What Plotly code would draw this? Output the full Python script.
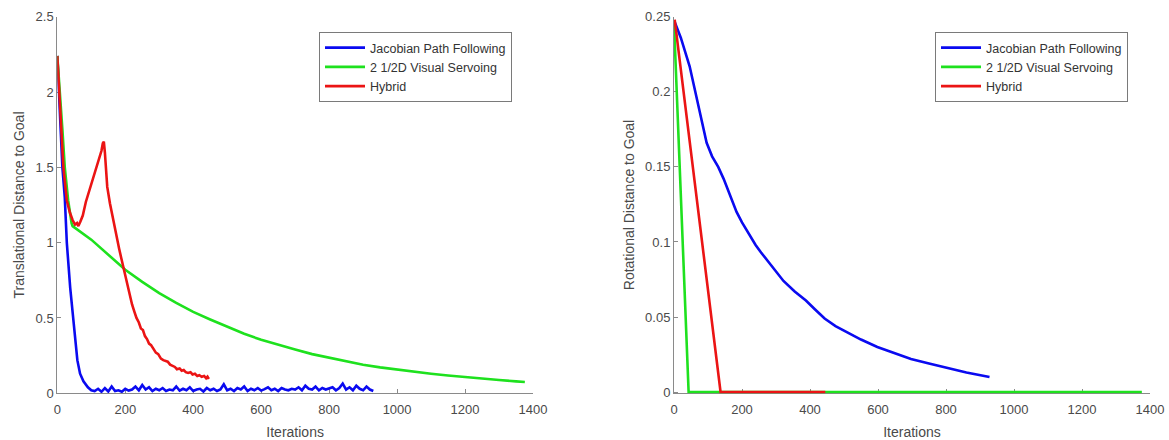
import plotly.graph_objects as go

# ---------------- data ----------------
series_names = ["Jacobian Path Following", "2 1/2D Visual Servoing", "Hybrid"]

# Left panel: translational distance
jac_t_x = [0, 5, 10, 15, 22, 28, 38, 47, 53, 59, 67, 77, 90, 100,
           110, 120, 130, 140, 150, 160, 170, 180, 190, 200, 210, 220, 230, 240, 250,
           260, 270, 280, 290, 300, 310, 320, 330, 340, 350, 360, 370, 380, 390, 400,
           410, 420, 430, 440, 450, 460, 470, 480, 490, 500, 510, 520, 530, 540, 550,
           560, 570, 580, 590, 600, 610, 620, 630, 640, 650, 660, 670, 680, 690, 700,
           710, 720, 730, 740, 750, 760, 770, 780, 790, 800, 810, 820, 830, 840, 850,
           860, 870, 880, 890, 900, 910, 920, 930]
jac_t_y = [2.24, 2.0, 1.75, 1.5, 1.3, 1.0, 0.7, 0.5, 0.35, 0.22, 0.13, 0.08, 0.04, 0.02,
           0.015, 0.03, 0.01, 0.035, 0.012, 0.045, 0.015, 0.02, 0.01, 0.03, 0.018, 0.025, 0.045, 0.02, 0.055,
           0.025, 0.04, 0.015, 0.03, 0.02, 0.035, 0.015, 0.025, 0.02, 0.045, 0.018, 0.03, 0.02, 0.04, 0.015,
           0.025, 0.03, 0.012, 0.035, 0.02, 0.03, 0.015, 0.025, 0.06, 0.02, 0.03, 0.015, 0.035, 0.025, 0.045,
           0.015, 0.03, 0.02, 0.035, 0.018, 0.028, 0.04, 0.02, 0.03, 0.015, 0.035, 0.025, 0.02, 0.03, 0.025,
           0.04, 0.02, 0.05, 0.03, 0.025, 0.045, 0.02, 0.035, 0.025, 0.03, 0.04, 0.02, 0.035, 0.065, 0.025,
           0.04, 0.02, 0.05, 0.03, 0.02, 0.045, 0.025, 0.015]

vs_t_x = [0, 8, 15, 22, 32, 42, 45, 100, 150, 200, 250, 300, 350, 400, 450, 500, 550, 600,
          650, 700, 750, 800, 850, 900, 950, 1000, 1050, 1100, 1150, 1200, 1250, 1300, 1350, 1376]
vs_t_y = [2.24, 2.0, 1.75, 1.5, 1.28, 1.13, 1.11, 1.02, 0.92, 0.82, 0.74, 0.665, 0.60, 0.54, 0.49, 0.44, 0.395, 0.355,
          0.32, 0.29, 0.26, 0.235, 0.21, 0.19, 0.172, 0.157, 0.143, 0.13, 0.118, 0.107, 0.097, 0.088, 0.079, 0.075]

hyb_t_x = [0, 10, 18, 28, 37, 45, 52, 58, 62, 68, 75, 84, 92, 100, 110, 118, 125, 130, 134, 137,
           140, 147, 155, 162, 168, 175, 182, 188, 194, 200, 207, 213, 220, 227, 233, 240, 246, 252,
           258, 264, 270, 276, 284, 290, 297, 305, 312, 318, 325, 332, 340, 346, 352, 360, 366, 372,
           378, 385, 392, 398, 405, 412, 418, 425, 432, 438, 442, 446]
hyb_t_y = [2.24, 1.85, 1.5, 1.28, 1.2, 1.15, 1.12, 1.13, 1.11, 1.14, 1.18, 1.27, 1.33, 1.39, 1.46, 1.52, 1.57, 1.61, 1.66, 1.67,
           1.6, 1.37, 1.26, 1.18, 1.11, 1.02, 0.96, 0.9, 0.84, 0.79, 0.72, 0.66, 0.59, 0.54, 0.5, 0.47, 0.43, 0.42,
           0.38, 0.36, 0.33, 0.32, 0.29, 0.27, 0.26, 0.23, 0.22, 0.215, 0.21, 0.19, 0.18, 0.175, 0.16, 0.165, 0.15, 0.155,
           0.14, 0.135, 0.14, 0.125, 0.13, 0.115, 0.12, 0.11, 0.115, 0.1, 0.11, 0.095]

# Right panel: rotational distance
jac_r_x = [0, 20, 46, 65, 79, 96, 112, 130, 146, 165, 184, 200, 220, 240, 256, 290, 322, 355, 388,
           415, 443, 475, 509, 550, 598, 650, 697, 750, 796, 860, 928]
jac_r_y = [0.2477, 0.236, 0.217, 0.197, 0.184, 0.166, 0.157, 0.150, 0.142, 0.131, 0.120, 0.113, 0.105,
           0.098, 0.093, 0.083, 0.074, 0.067, 0.061, 0.055, 0.049, 0.044, 0.040, 0.035, 0.030, 0.026,
           0.022, 0.019, 0.0166, 0.013, 0.010]

vs_r_x = [0, 43, 1376]
vs_r_y = [0.246, 0.0, 0.0]

hyb_r_x = [2, 137, 445]
hyb_r_y = [0.248, 0.0, 0.0]

x_ticks = [0, 200, 400, 600, 800, 1000, 1200, 1400]
x_tick_text = ["0", "200", "400", "600", "800", "1000", "1200", "1400"]
yl_ticks = [0, 0.5, 1, 1.5, 2, 2.5]
yl_tick_text = ["0", "0.5", "1", "1.5", "2", "2.5"]
yr_ticks = [0, 0.05, 0.1, 0.15, 0.2, 0.25]
yr_tick_text = ["0", "0.05", "0.1", "0.15", "0.2", "0.25"]

# ---------------- styling ----------------
colors = ["rgb(10,10,240)", "rgb(30,225,30)", "rgb(235,20,20)"]
LW = 2.6
FONT = "Liberation Sans, Arial, Helvetica, sans-serif"
AXC = "#8a8a8a"
TXC = "#4a4a4a"

fig = go.Figure()

left = [(jac_t_x, jac_t_y), (vs_t_x, vs_t_y), (hyb_t_x, hyb_t_y)]
right = [(jac_r_x, jac_r_y), (vs_r_x, vs_r_y), (hyb_r_x, hyb_r_y)]

for i, (xs, ys) in enumerate(left):
    fig.add_trace(go.Scatter(x=xs, y=ys, mode="lines", name=series_names[i],
                             line=dict(color=colors[i], width=LW),
                             xaxis="x", yaxis="y", legend="legend", hoverinfo="skip"))
for i, (xs, ys) in enumerate(right):
    fig.add_trace(go.Scatter(x=xs, y=ys, mode="lines", name=series_names[i],
                             line=dict(color=colors[i], width=LW),
                             xaxis="x2", yaxis="y2", legend="legend2", hoverinfo="skip"))

W, H = 1169, 440
ydom = [1 - 393.3 / H, 1 - 16.7 / H]

common_x = dict(range=[0, 1400], tickmode="array", tickvals=x_ticks, ticktext=x_tick_text,
                showline=True, linecolor=AXC, linewidth=1, showgrid=False, zeroline=False,
                ticks="inside", ticklen=4, tickcolor=AXC, tickfont=dict(family=FONT, size=13, color=TXC),
                ticklabelstandoff=4,
                title=dict(text="Iterations", font=dict(family=FONT, size=14, color=TXC), standoff=12),
                automargin=False, layer="below traces", mirror=False)
common_y = dict(showline=True, linecolor=AXC, linewidth=1, showgrid=False, zeroline=False,
                ticks="inside", ticklen=4, tickcolor=AXC, tickfont=dict(family=FONT, size=13, color=TXC),
                automargin=False, layer="below traces", mirror=False, tickmode="array")

legend_common = dict(xanchor="left", yanchor="top", bgcolor="white", bordercolor="#7a7a7a", borderwidth=1,
                     font=dict(family=FONT, size=12.5, color="#333333"), itemwidth=40, tracegroupgap=0,
                     itemclick=False, itemdoubleclick=False)

fig.update_layout(
    width=W, height=H,
    margin=dict(l=0, r=0, t=0, b=0),
    paper_bgcolor="white", plot_bgcolor="white",
    xaxis=dict(domain=[57.3 / W, 533 / W], anchor="y", **common_x),
    yaxis=dict(domain=ydom, anchor="x", range=[0, 2.5], tickvals=yl_ticks, ticktext=yl_tick_text,
               title=dict(text="Translational Distance to Goal", font=dict(family=FONT, size=14, color=TXC), standoff=7),
               **common_y),
    xaxis2=dict(domain=[674 / W, 1150 / W], anchor="y2", **common_x),
    yaxis2=dict(domain=ydom, anchor="x2", range=[-0.0008, 0.25], tickvals=yr_ticks, ticktext=yr_tick_text,
                title=dict(text="Rotational Distance to Goal", font=dict(family=FONT, size=14, color=TXC), standoff=7),
                **common_y),
    legend=dict(x=319 / W, y=1 - 32 / H, **legend_common),
    legend2=dict(x=935 / W, y=1 - 32 / H, **legend_common),
    showlegend=True,
)

fig.write_html("out.html", config={"displayModeBar": False},
               post_script="document.body.style.margin='0';document.body.style.overflow='hidden';")
